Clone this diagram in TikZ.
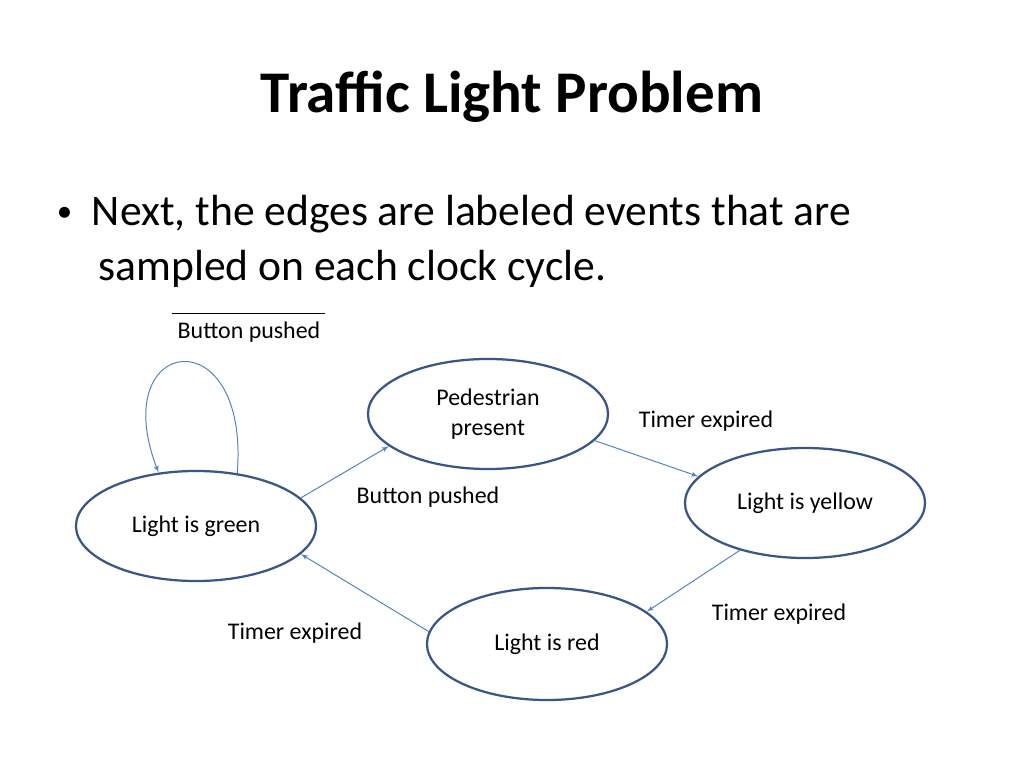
\documentclass[tikz,border=0pt]{standalone}
\usepackage{fontspec}
\setmainfont{Carlito}
\usetikzlibrary{shapes.geometric,arrows}
\definecolor{stateblue}{RGB}{58,86,136}
\definecolor{edgeblue}{RGB}{84,130,190}
\tikzstyle{state} = [draw=stateblue, ellipse, line width=1.6pt, minimum width=6cm, minimum height=2.75cm, align=center, font=\fontsize{17}{21}\selectfont]
\tikzstyle{line} = [draw=edgeblue, line width=0.7pt, -latex']
\tikzstyle{event} = [font=\fontsize{17}{21}\selectfont]
\begin{document}
\begin{tikzpicture}[x=0.025cm, y=-0.025cm]
      \useasboundingbox (0,0) rectangle (1024,768);
      % Title and text
      \node [font=\fontsize{42}{48}\selectfont\bfseries] (title) at (512,97) {Traffic Light Problem};
      \node [anchor=west, font=\fontsize{31}{39}\selectfont, align=left] (text) at (52,241)
        {{\fontsize{22}{22}\selectfont\raisebox{0.12em}{\textbullet}}\hspace{0.45em}Next, the edges are labeled events that are\\
         \hspace{0.95em}sampled on each clock cycle.};
      % Place nodes
      \node [state] (green) at (196,526) {Light is green};
      \node [state] (ped) at (488,414) {Pedestrian\\present};
      \node [state] (yellow) at (805,503) {Light is yellow};
      \node [state, minimum height=2.8cm] (red) at (547,644) {Light is red};
      % Edge labels
      \node [event] (nobutton) at (249,332) {Button pushed};
      \draw [line width=0.5pt] (nobutton.north west) ++(-1,-3) coordinate (ov) -- (nobutton.north east |- ov);
      \node [event] (button) at (428,497) {Button pushed};
      \node [event] (t1) at (706,421) {Timer expired};
      \node [event] (t2) at (779,614) {Timer expired};
      \node [event] (t3) at (295,633) {Timer expired};
      % Draw edges
      \path [line] (green.15) -- (ped.198);
      \path [line] (ped.-14) -- (yellow.166);
      \path [line] (yellow.216) -- (red.18);
      \path [line] (red.174) -- (green.-15);
      \path [line] (green.52) .. controls (250,315) and (105,335) .. (green.125);
\end{tikzpicture}
\end{document}
